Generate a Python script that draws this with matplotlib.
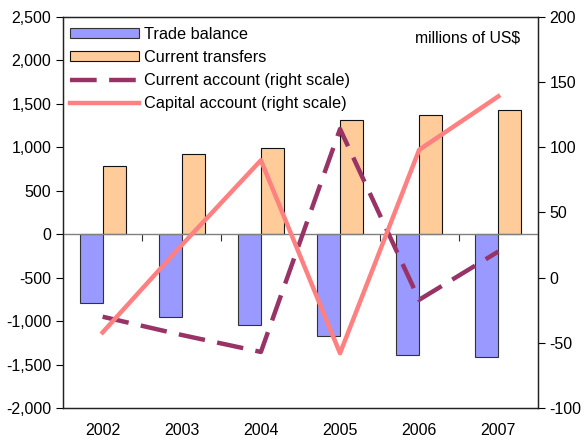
import matplotlib
matplotlib.use("Agg")
import matplotlib.pyplot as plt
import numpy as np
from matplotlib.ticker import FuncFormatter, FixedLocator

plt.rcParams['font.family'] = ['Liberation Sans', 'DejaVu Sans']
plt.rcParams['axes.unicode_minus'] = False

years = ["2002", "2003", "2004", "2005", "2006", "2007"]
trade_balance = [-795, -955, -1047, -1174, -1395, -1410]
current_transfers = [782, 918, 990, 1312, 1369, 1427]
current_account = [-30, -44, -57, 114, -17, 20]
capital_account = [-42, 25, 90, -58, 98, 139]

left_ticks = [-2000, -1500, -1000, -500, 0, 500, 1000, 1500, 2000, 2500]
right_ticks = [-100, -50, 0, 50, 100, 150, 200]

fig = plt.figure(figsize=(5.84, 4.43), dpi=100)
ax = fig.add_axes([0.108, 0.079, 0.813, 0.883])
x = np.arange(len(years))
w = 0.29

b1 = ax.bar(x - w/2, trade_balance, w, color='#9999FF', edgecolor='#333333', linewidth=0.8, label='Trade balance')
b2 = ax.bar(x + w/2, current_transfers, w, color='#FFCC99', edgecolor='#111111', linewidth=0.8, label='Current transfers')
ax.set_xlim(-0.5, len(years) - 0.5)
ax.set_ylim(left_ticks[0], left_ticks[-1])
ax.set_yticks(left_ticks)
ax.yaxis.set_major_formatter(FuncFormatter(lambda v, p: f"{int(v):,}"))
ax.axhline(0, color='#808080', linewidth=1.0, zorder=3)
ax.set_xticks(x)
ax.set_xticklabels(years)
ax.tick_params(axis='x', length=0, pad=11, labelsize=11.5)
ax.tick_params(axis='y', direction='out', length=5, labelsize=11.5, width=0.8)
for s in ax.spines.values():
    s.set_linewidth(0.9)
    s.set_color('#222222')

# category boundary ticks on the zero line
zero_frac = (0 - left_ticks[0]) / (left_ticks[-1] - left_ticks[0])
sec = ax.secondary_xaxis(zero_frac)
sec.xaxis.set_major_locator(FixedLocator(list(x[:-1] + 0.5)))
sec.tick_params(axis='x', direction='out', length=5, color='#333333', labelbottom=False, labeltop=False)
sec.spines['bottom'].set_visible(False)
sec.spines['top'].set_visible(False)

ax2 = ax.twinx()
l1, = ax2.plot(x, current_account, color='#993366', linewidth=3.2, dashes=(6, 2.8), label='Current account (right scale)')
l2, = ax2.plot(x, capital_account, color='#FF8080', linewidth=3.2, label='Capital account (right scale)')
ax2.set_ylim(right_ticks[0], right_ticks[-1])
ax2.set_yticks(right_ticks)
ax2.tick_params(axis='y', direction='out', length=5, labelsize=11.5, width=0.8)
for s in ax2.spines.values():
    s.set_linewidth(0.9)
    s.set_color('#222222')

ax2.text(0.962, 0.945, 'millions of US$', transform=ax2.transAxes, ha='right', va='center', fontsize=11.3)

leg = ax2.legend(handles=[b1, b2, l1, l2], loc='upper left', bbox_to_anchor=(-0.005, 1.0),
                 frameon=False, fontsize=11.7, handlelength=4.2, handleheight=0.55,
                 handletextpad=0.3, labelspacing=0.5, borderaxespad=0.2)

fig.savefig('out.png', dpi=100)
